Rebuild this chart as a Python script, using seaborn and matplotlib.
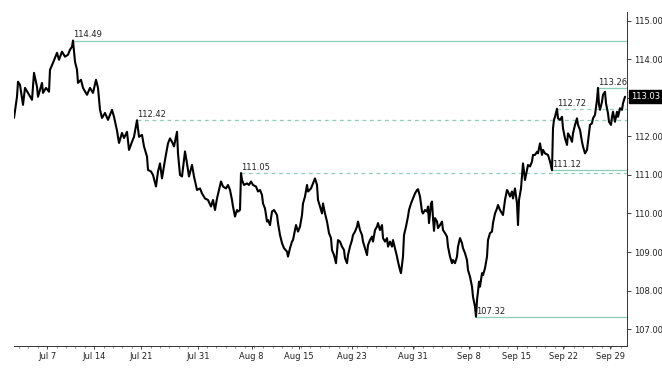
import matplotlib
matplotlib.use("Agg")
import matplotlib.pyplot as plt
import numpy as np
import pandas as pd
import seaborn as sns

# bar index (hourly-ish bars) and close price
bars = [
    0, 3, 4, 6, 9, 11, 14, 18, 20, 23, 24, 28, 29, 32, 35, 36, 39, 43, 45, 48,
    51, 54, 56, 58, 59, 61, 63, 64, 67, 69, 73, 76, 79, 82, 84, 86, 88, 91, 94, 98,
    100, 103, 105, 108, 110, 113, 115, 118, 120, 123, 125, 128, 130, 133, 134, 137, 139, 142, 144, 146,
    148, 151, 154, 156, 158, 160, 163, 164, 166, 168, 171, 173, 175, 178, 180, 183, 186, 188, 191, 194,
    197, 199, 201, 203, 205, 207, 209, 212, 214, 216, 218, 219, 221, 223, 224, 226, 227, 228, 230, 233,
    235, 237, 239, 242, 244, 246, 248, 249, 251, 253, 254, 256, 258, 260, 263, 264, 266, 268, 270, 273,
    274, 276, 278, 279, 282, 284, 286, 288, 289, 291, 293, 294, 297, 299, 301, 303, 304, 306, 308, 309,
    311, 313, 315, 317, 318, 320, 322, 324, 326, 328, 330, 331, 333, 334, 336, 338, 339, 341, 343, 344,
    346, 348, 349, 351, 353, 354, 356, 358, 359, 361, 363, 364, 366, 368, 369, 371, 373, 374, 376, 378,
    379, 381, 383, 384, 386, 387, 389, 390, 392, 394, 395, 397, 399, 401, 403, 404, 406, 408, 409, 411,
    413, 414, 415, 417, 418, 419, 420, 421, 423, 424, 426, 428, 429, 431, 433, 434, 436, 438, 439, 441,
    443, 444, 446, 448, 449, 451, 453, 454, 456, 458, 459, 461, 462, 463, 464, 465, 466, 468, 469, 471,
    473, 474, 476, 478, 479, 481, 483, 484, 486, 488, 489, 491, 493, 494, 496, 498, 499, 501, 503, 504,
    505, 507, 508, 509, 511, 513, 514, 516, 518, 519, 521, 523, 524, 526, 528, 529, 531, 534, 536, 538,
    539, 540, 541, 543, 544, 546, 548, 549, 551, 553, 554, 556, 558, 559, 561, 563, 564, 566, 568, 569,
    571, 573, 574, 575, 576, 578, 579, 581, 583, 584, 585, 586, 588, 589, 591, 592, 594, 595, 597, 598,
    599, 601, 603, 604, 606, 608, 609, 611,
]
close = [
    112.48, 113.03, 113.42, 113.34, 112.82, 113.26, 113.13, 112.95, 113.65, 113.29, 113.03, 113.39, 113.13, 113.26, 113.16, 113.73, 113.91, 114.17, 113.99, 114.20,
    114.07, 114.12, 114.25, 114.33, 114.49, 113.94, 113.73, 113.39, 113.47, 113.26, 113.08, 113.26, 113.13, 113.47, 113.26, 112.69, 112.48, 112.61, 112.43, 112.69,
    112.51, 112.15, 111.83, 112.09, 111.96, 112.12, 111.65, 111.86, 111.99, 112.42, 111.99, 112.04, 111.74, 111.48, 111.13, 111.09, 111.00, 110.70, 111.09, 111.30,
    110.91, 111.39, 111.82, 111.95, 111.86, 111.74, 112.12, 111.56, 111.00, 110.96, 111.61, 111.30, 110.96, 111.26, 110.96, 110.61, 110.65, 110.52, 110.39, 110.35,
    110.18, 110.35, 110.09, 110.39, 110.61, 110.83, 110.70, 110.65, 110.74, 110.61, 110.35, 110.18, 109.92, 110.09, 110.05, 110.09, 111.05, 110.87, 110.74, 110.78,
    110.74, 110.83, 110.74, 110.70, 110.57, 110.61, 110.48, 110.26, 110.13, 109.79, 109.83, 109.70, 110.05, 110.09, 109.96, 109.75, 109.44, 109.23, 109.10, 109.01,
    108.88, 109.10, 109.27, 109.31, 109.70, 109.53, 109.66, 109.96, 110.26, 110.44, 110.74, 110.57, 110.65, 110.78, 110.91, 110.74, 110.35, 110.18, 110.00, 110.26,
    110.00, 109.79, 109.49, 109.36, 109.05, 108.92, 108.71, 109.31, 109.27, 109.14, 109.05, 108.84, 108.71, 108.92, 109.14, 109.31, 109.44, 109.53, 109.66, 109.79,
    109.57, 109.44, 109.27, 109.10, 108.92, 109.18, 109.31, 109.40, 109.27, 109.57, 109.66, 109.75, 109.57, 109.70, 109.36, 109.27, 109.36, 109.14, 109.27, 109.14,
    109.31, 109.10, 108.88, 108.75, 108.53, 108.45, 108.88, 109.44, 109.66, 109.92, 110.09, 110.26, 110.39, 110.52, 110.61, 110.63, 110.44, 110.05, 110.00, 110.09,
    110.05, 110.18, 109.75, 110.26, 110.31, 109.88, 109.55, 109.88, 109.79, 109.62, 109.70, 109.79, 109.57, 109.49, 109.40, 109.14, 108.88, 108.71, 108.79, 108.71,
    108.88, 109.14, 109.36, 109.23, 109.10, 108.97, 108.79, 108.53, 108.36, 108.10, 107.84, 107.58, 107.32, 107.75, 107.97, 108.23, 108.10, 108.45, 108.40, 108.58,
    108.88, 109.31, 109.49, 109.53, 109.75, 110.00, 110.13, 110.22, 110.09, 110.00, 109.96, 110.35, 110.61, 110.57, 110.44, 110.57, 110.39, 110.65, 110.26, 109.70,
    110.35, 110.65, 110.96, 111.30, 110.87, 111.13, 111.26, 111.22, 111.35, 111.52, 111.52, 111.60, 111.56, 111.82, 111.52, 111.65, 111.56, 111.52, 111.35, 111.12,
    112.21, 112.43, 112.51, 112.72, 112.47, 112.43, 112.51, 112.21, 111.95, 111.78, 112.08, 111.99, 111.86, 112.08, 112.30, 112.47, 112.30, 112.17, 111.86, 111.74,
    111.56, 111.65, 111.86, 112.08, 112.30, 112.34, 112.47, 112.56, 112.95, 113.26, 112.82, 112.69, 112.90, 113.08, 113.16, 112.86, 112.60, 112.38, 112.30, 112.51,
    112.64, 112.38, 112.64, 112.51, 112.73, 112.69, 112.86, 113.03,
]

# marked highs/lows: value, bar where the line starts, style
level_values = [114.49, 112.42, 111.05, 107.32, 111.12, 112.72, 113.26]
level_starts = [59, 123, 227, 462, 538, 543, 584]
level_dashed = [False, True, True, False, False, True, False]

date_labels = ["Jul 7", "Jul 14", "Jul 21", "Jul 31", "Aug 8", "Aug 15",
               "Aug 23", "Aug 31", "Sep 8", "Sep 15", "Sep 22", "Sep 29"]
date_bars = [33.3, 80.3, 127, 184.3, 237.7, 285, 338, 399.3, 455.3, 502.7, 549.3, 596]

price_ticks = [107, 108, 109, 110, 111, 112, 113, 114, 115]
last_price = close[-1]

LEVEL_COLOR = "#8ccfb9"
TEXT_COLOR = "#222222"

sns.set_theme(style="white")
plt.rcParams["font.family"] = ["DejaVu Sans"]

fig = plt.figure(figsize=(6.62, 3.69), dpi=100)
ax = fig.add_axes([14 / 662, 1 - 346 / 369, 613 / 662, 334 / 369])

df = pd.DataFrame({"bar": bars, "close": close})
sns.lineplot(data=df, x="bar", y="close", ax=ax, color="black",
             linewidth=1.5, sort=False, estimator=None)

x_end = 613
for val, start, dashed in zip(level_values, level_starts, level_dashed):
    ax.plot([start, x_end], [val, val], color=LEVEL_COLOR, linewidth=0.9,
            linestyle=(0, (3, 3)) if dashed else "-", zorder=1)
    ax.text(start, val + 0.03, f"{val:.2f}", fontsize=6, color=TEXT_COLOR,
            ha="left", va="bottom")

ax.set_xlim(0, x_end)
ax.set_ylim(106.56, 115.23)

# the last-price tag sits on top of the 113.00 label, so that one stays blank
ax.yaxis.tick_right()
ax.set_yticks(price_ticks)
ax.set_yticklabels(["" if abs(p - last_price) < 0.2 else f"{p:.2f}" for p in price_ticks])
ax.set_xticks(date_bars)
ax.set_xticklabels(date_labels)
ax.set_xticks(np.arange(5, x_end, 9.4), minor=True)
ax.tick_params(axis="y", which="major", direction="out", length=3, width=0.6,
               labelsize=6, colors=TEXT_COLOR, pad=2, right=True, left=False)
ax.tick_params(axis="x", which="major", direction="out", length=2, width=0.6,
               labelsize=6, colors=TEXT_COLOR, pad=2, bottom=True)
ax.tick_params(axis="x", which="minor", direction="out", length=1.5, width=0.5,
               colors="#555555", bottom=True)

for side in ["left", "top"]:
    ax.spines[side].set_visible(False)
for side in ["right", "bottom"]:
    ax.spines[side].set_color("#333333")
    ax.spines[side].set_linewidth(0.7)

ax.set_xlabel("")
ax.set_ylabel("")
ax.grid(False)

ax.annotate(f"{last_price:.2f}", xy=(1.0, last_price),
            xycoords=("axes fraction", "data"), xytext=(3, 0),
            textcoords="offset points", fontsize=6, color="white",
            ha="left", va="center",
            bbox=dict(boxstyle="square,pad=0.25", fc="black", ec="black"))

fig.savefig("out.png", dpi=100)
plt.close(fig)
